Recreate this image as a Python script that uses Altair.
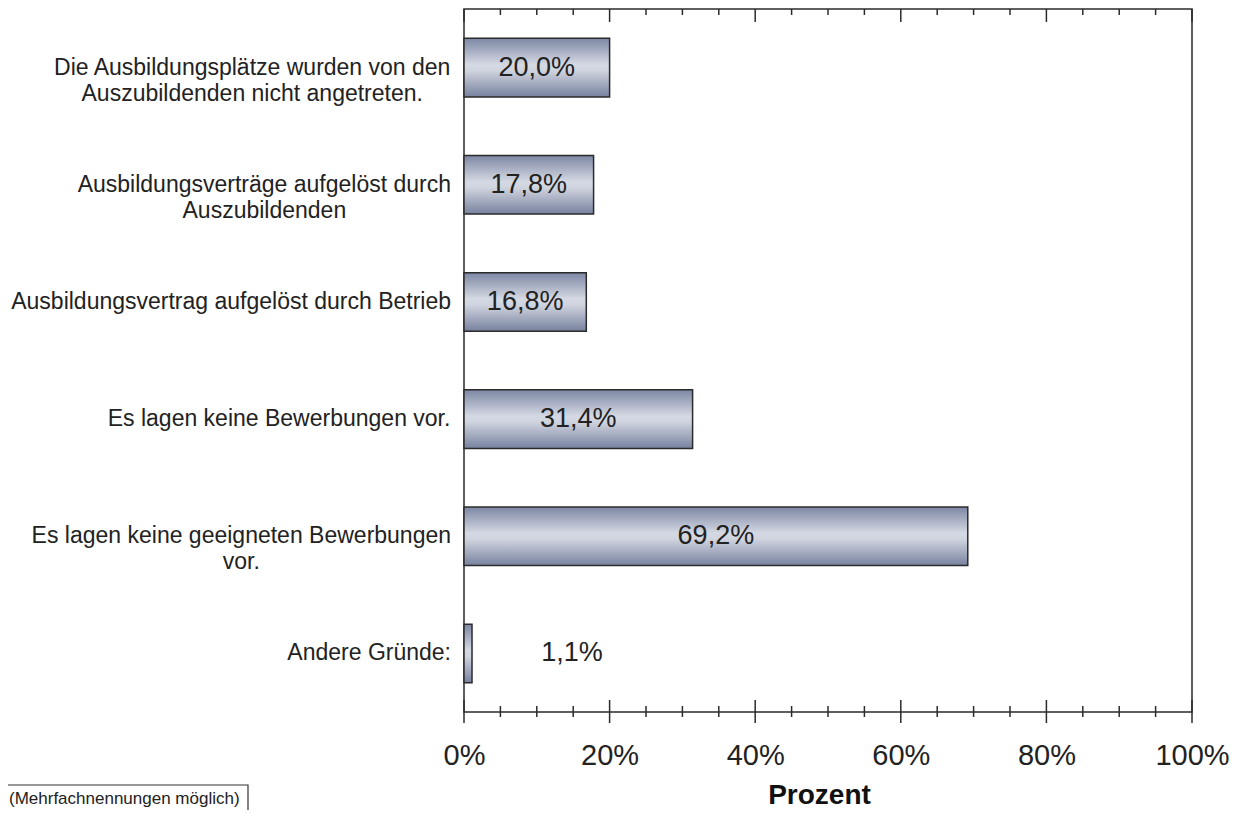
import altair as alt
import pandas as pd

categories = [
    "Die Ausbildungsplätze wurden von den\nAuszubildenden nicht angetreten.",
    "Ausbildungsverträge aufgelöst durch\nAuszubildenden",
    "Ausbildungsvertrag aufgelöst durch Betrieb",
    "Es lagen keine Bewerbungen vor.",
    "Es lagen keine geeigneten Bewerbungen\nvor.",
    "Andere Gründe:",
]
values = [20.0, 17.8, 16.8, 31.4, 69.2, 1.1]
major_ticks = [0, 20, 40, 60, 80, 100]
minor_ticks = [5, 10, 15, 25, 30, 35, 45, 50, 55, 65, 70, 75, 85, 90, 95]
footnote = "(Mehrfachnennungen möglich)"

FONT = "Liberation Sans"
CAT_SIZE = 23

# Arial / Liberation Sans advance widths (per 1000 em) for centring multi-line labels
W = {" ": 278, ".": 278, ":": 278, ",": 278, "a": 556, "b": 556, "c": 500, "d": 556,
     "e": 556, "f": 278, "g": 556, "h": 556, "i": 222, "j": 222, "k": 500, "l": 222,
     "m": 833, "n": 556, "o": 556, "p": 556, "q": 556, "r": 333, "s": 500, "t": 278,
     "u": 556, "v": 500, "w": 722, "x": 500, "y": 500, "z": 500, "ä": 556, "ö": 556,
     "ü": 556, "A": 667, "B": 667, "C": 722, "D": 722, "E": 667, "G": 778, "M": 833}


def text_width(s, size):
    return max(sum(W.get(ch, 556) for ch in line) for line in s.split("\n")) * size / 1000


df = pd.DataFrame({
    "cat": categories,
    "value": values,
    "label": [f"{v:.1f}".replace(".", ",") + "%" for v in values],
    "lx": [-13 - text_width(c, CAT_SIZE) / 2 for c in categories],
})
ticks_major = pd.DataFrame({"t": major_ticks})
ticks_minor = pd.DataFrame({"t": minor_ticks})

ydom = alt.Scale(domain=categories, paddingInner=0.5, paddingOuter=0.25)
xscale = alt.Scale(domain=[0, 100], nice=False, zero=True)

gradient = alt.Gradient(
    gradient="linear",
    stops=[
        alt.GradientStop(color="#7d87a4", offset=0),
        alt.GradientStop(color="#d5d9e3", offset=0.45),
        alt.GradientStop(color="#d0d4df", offset=0.55),
        alt.GradientStop(color="#78829f", offset=1),
    ],
    x1=0, x2=0, y1=0, y2=1,
)

base = alt.Chart(df)

bars = base.mark_bar(fill=gradient, stroke="#2b2b2b", strokeWidth=1.5).encode(
    x=alt.X(
        "value:Q",
        scale=xscale,
        axis=alt.Axis(
            values=major_ticks,
            labelExpr="datum.value + '%'",
            grid=False, ticks=False, tickSize=0, domain=False,
            labelFont=FONT, labelFontSize=29, labelColor="#222222",
            labelPadding=52, labelBaseline="alphabetic",
            labelFlush=False, labelOverlap=False,
            title="Prozent", titleFont=FONT, titleFontSize=28, titleFontWeight="bold",
            titleColor="#111111", titleX=355, titleY=91, titleBaseline="alphabetic",
            titleAlign="center",
        ),
    ),
    y=alt.Y("cat:N", scale=ydom, axis=None, sort=categories),
)

inside = base.transform_filter("datum.value >= 5").mark_text(
    font=FONT, fontSize=27, color="#222222", baseline="middle", align="center"
).encode(
    x=alt.X("mid:Q", scale=xscale),
    y=alt.Y("cat:N", scale=ydom, sort=categories),
    text="label:N",
).transform_calculate(mid="datum.value / 2")

outside = base.transform_filter("datum.value < 5").mark_text(
    font=FONT, fontSize=27, color="#222222", baseline="middle", align="center", dx=100
).encode(
    x=alt.X("value:Q", scale=xscale),
    y=alt.Y("cat:N", scale=ydom, sort=categories),
    text="label:N",
)

cat_labels = base.mark_text(
    font=FONT, fontSize=CAT_SIZE, color="#222222", baseline="middle", align="center",
    lineBreak="\n", lineHeight=26,
).encode(
    x=alt.X("lx:Q", scale=None),
    y=alt.Y("cat:N", scale=ydom, sort=categories),
    text="cat:N",
)

tick_style = dict(color="#2b2b2b", strokeWidth=1.5)
bot_major = alt.Chart(ticks_major).mark_rule(**tick_style).encode(
    x=alt.X("t:Q", scale=xscale), y=alt.value(691), y2=alt.value(714))
bot_minor = alt.Chart(ticks_minor).mark_rule(**tick_style).encode(
    x=alt.X("t:Q", scale=xscale), y=alt.value(697), y2=alt.value(708))
top_major = alt.Chart(ticks_major).mark_rule(**tick_style).encode(
    x=alt.X("t:Q", scale=xscale), y=alt.value(0), y2=alt.value(13))
top_minor = alt.Chart(ticks_minor).mark_rule(**tick_style).encode(
    x=alt.X("t:Q", scale=xscale), y=alt.value(0), y2=alt.value(6))

note_df = pd.DataFrame({"note": [footnote]})
note_box = alt.Chart(note_df).mark_rect(fill="white", stroke="#333333", strokeWidth=1.2).encode(
    x=alt.value(-458), x2=alt.value(-216), y=alt.value(776), y2=alt.value(820))
note_text = alt.Chart(note_df).mark_text(
    font=FONT, fontSize=17, color="#222222", align="left", baseline="alphabetic"
).encode(x=alt.value(-455), y=alt.value(795), text="note:N")

chart = alt.layer(
    bars, inside, outside, cat_labels, bot_major, bot_minor, top_major, top_minor,
    note_box, note_text,
).properties(
    width=728, height=703,
    autosize=alt.AutoSizeParams(type="none"),
    padding={"left": 456, "top": 1, "right": 42, "bottom": 98},
).configure(background="white").configure_view(stroke="#2b2b2b", strokeWidth=1.5)

chart.save("out.html", embed_options={"renderer": "svg", "actions": False})
